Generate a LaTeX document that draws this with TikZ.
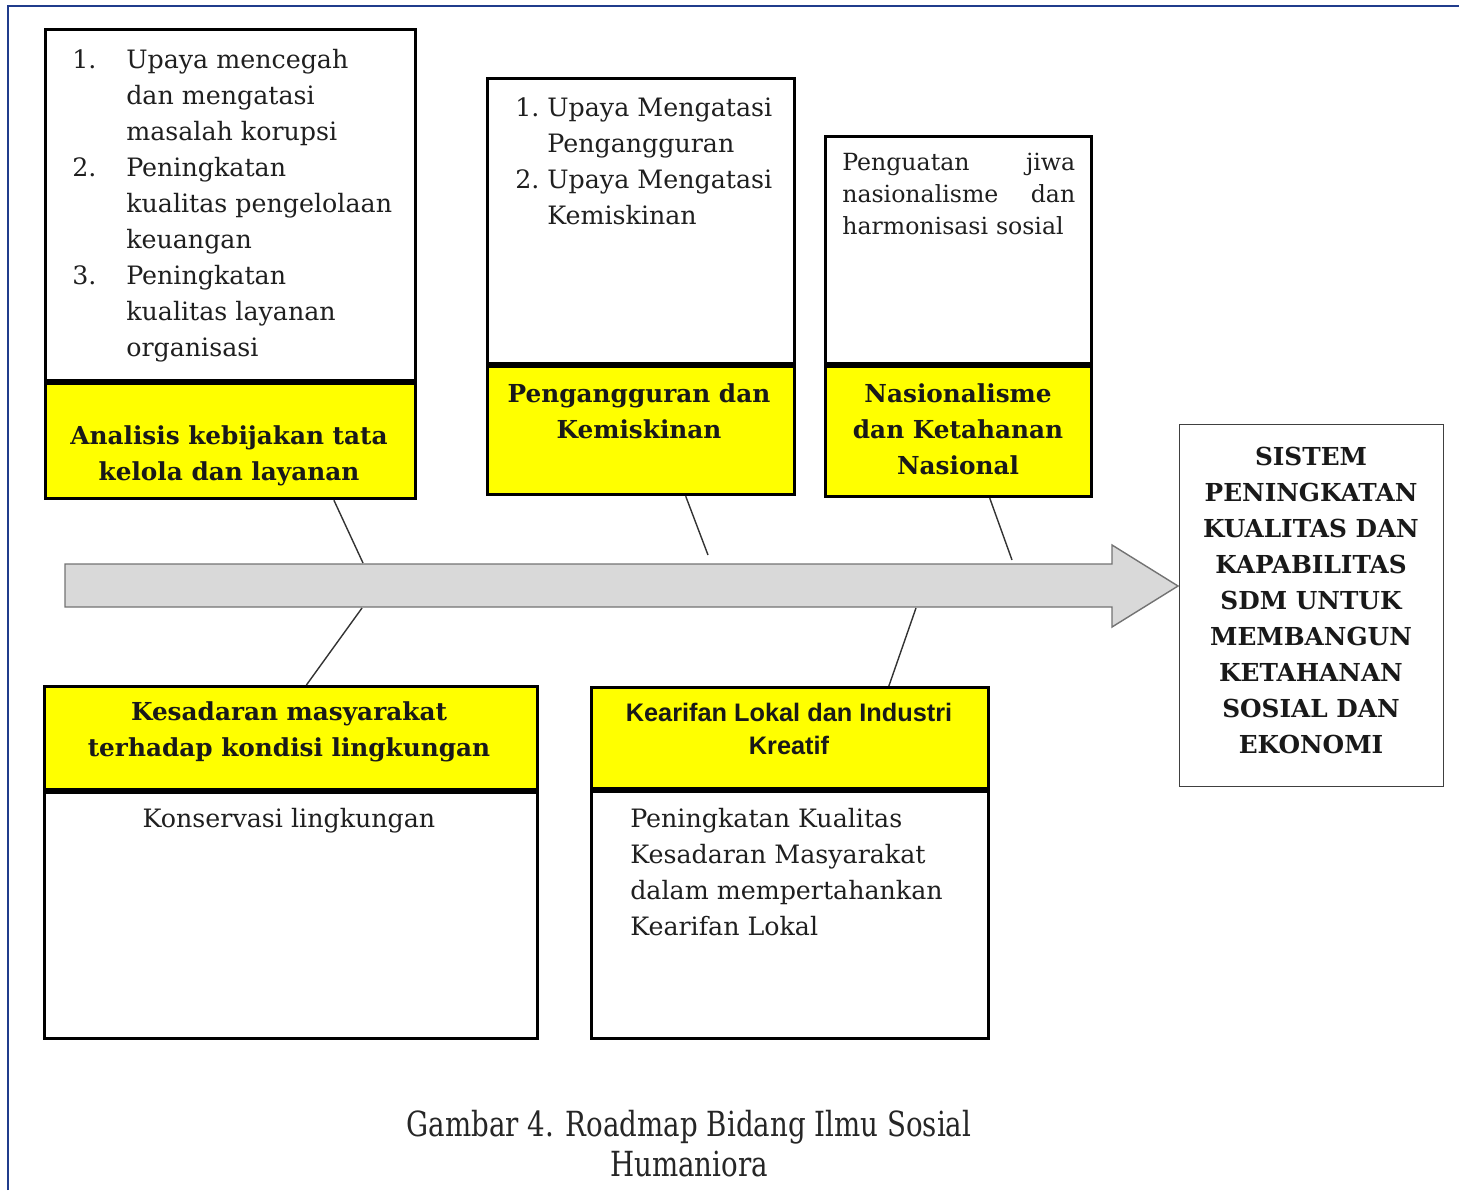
\documentclass[tikz,border=0pt]{standalone}
\usepackage{fontspec}
\setmainfont{DejaVu Serif}
\newfontfamily\capfont[FakeStretch=0.8]{DejaVu Serif}
\newfontfamily\kfont{Liberation Sans}
\usetikzlibrary{calc}
\definecolor{hdyellow}{RGB}{255,255,0}
\definecolor{frameblue}{RGB}{32,60,140}
\definecolor{shaftgray}{RGB}{217,217,217}
\newcommand{\pxw}{0.025cm}
\tikzset{
  cell/.style={draw=black, line width=2.2pt, anchor=north west, inner sep=0pt},
  headcell/.style={cell, fill=hdyellow},
  bodytext/.style={anchor=north west, inner sep=0pt, align=left, text=black!88,
    font=\fontsize{18}{25.6}\selectfont},
  headtext/.style={anchor=north, inner sep=0pt, align=center, text=black!90,
    font=\bfseries\fontsize{17.6}{25.6}\selectfont},
  stem/.style={draw=black!80, line width=1pt},
}
\begin{document}
\begin{tikzpicture}[x=0.025cm, y=-0.025cm]
        \useasboundingbox (0,0) rectangle (1459,1190);
        %Page frame
        \draw[frameblue, line width=1.5pt] (8,1190) -- (8,6) -- (1459,6);
        %Main arrow
        \draw[draw=black!55, fill=shaftgray, line width=1pt]
          (65,564) -- (1112,564) -- (1112,545) -- (1178,586)
          -- (1112,627) -- (1112,607) -- (65,607) -- cycle;
        \coordinate (jA) at (363,563);
        \coordinate (jB) at (708,555);
        \coordinate (jC) at (1012,560);
        \coordinate (jE) at (362,608);
        \coordinate (jF) at (916,608);
        %Top cells
        \node[cell, minimum width=370*\pxw, minimum height=351*\pxw] (listA) at (44,28) {};
        \node[headcell, minimum width=370*\pxw, minimum height=115*\pxw] (headA) at (listA.south west) {};
        \node[cell, minimum width=307*\pxw, minimum height=285*\pxw] (listB) at (486,77) {};
        \node[headcell, minimum width=307*\pxw, minimum height=128*\pxw] (headB) at (listB.south west) {};
        \node[cell, minimum width=266*\pxw, minimum height=227*\pxw] (listC) at (824,135) {};
        \node[headcell, minimum width=266*\pxw, minimum height=130*\pxw] (headC) at (listC.south west) {};
        %Bottom cells
        \node[headcell, minimum width=493*\pxw, minimum height=103*\pxw] (headE) at (43,685) {};
        \node[cell, minimum width=493*\pxw, minimum height=246*\pxw] (listE) at (headE.south west) {};
        \node[headcell, minimum width=397*\pxw, minimum height=101*\pxw] (headF) at (590,686) {};
        \node[cell, minimum width=397*\pxw, minimum height=247*\pxw] (listF) at (headF.south west) {};
        %Goal
        \node[draw=black!75, line width=1pt, anchor=north west, inner sep=0pt,
          minimum width=264*\pxw, minimum height=362*\pxw] (goal) at (1179,424) {};
        %Stems
        \foreach \cell/\pos/\to in {headA/0.777/jA, headB/0.644/jB, headC/0.616/jC}
          \draw[stem] ($(\cell.south west)!\pos!(\cell.south east)$) -- (\to);
        \foreach \cell/\pos/\to in {headE/0.531/jE, headF/0.747/jF}
          \draw[stem] ($(\cell.north west)!\pos!(\cell.north east)$) -- (\to);
        %Texts
        \node[bodytext] (txtA) at (72,49)
          {\makebox[38.4pt][l]{1.}Upaya mencegah\\\hspace*{38.4pt}dan mengatasi\\\hspace*{38.4pt}masalah korupsi\\
           \makebox[38.4pt][l]{2.}Peningkatan\\\hspace*{38.4pt}kualitas pengelolaan\\\hspace*{38.4pt}keuangan\\
           \makebox[38.4pt][l]{3.}Peningkatan\\\hspace*{38.4pt}kualitas layanan\\\hspace*{38.4pt}organisasi};
        \node[bodytext] (txtB) at (515,97)
          {\makebox[22.8pt][l]{1.}Upaya Mengatasi\\\hspace*{22.8pt}Pengangguran\\
           \makebox[22.8pt][l]{2.}Upaya Mengatasi\\\hspace*{22.8pt}Kemiskinan};
        \node[bodytext, text width=233*\pxw, font=\fontsize{16.8}{22.8}\selectfont] (txtC) at (842,153)
          {Penguatan\hfill jiwa\\nasionalisme\hfill dan\\harmonisasi sosial};
        \node[headtext] (ttlA) at (229,425) {Analisis kebijakan tata\\kelola dan layanan};
        \node[headtext] (ttlB) at (639,383) {Pengangguran dan\\Kemiskinan};
        \node[headtext] (ttlC) at (958,383) {Nasionalisme\\dan Ketahanan\\Nasional};
        \node[headtext] (ttlE) at (289,701) {Kesadaran masyarakat\\terhadap kondisi lingkungan};
        \node[headtext, font=\kfont\bfseries\fontsize{18}{23.5}\selectfont] (ttlF) at (789,703)
          {Kearifan Lokal dan Industri\\Kreatif};
        \node[bodytext, anchor=north, align=center] (txtE) at (289,808) {Konservasi lingkungan};
        \node[bodytext] (txtF) at (630,808)
          {Peningkatan Kualitas\\Kesadaran Masyarakat\\dalam mempertahankan\\Kearifan Lokal};
        \node[headtext] (ttlGoal) at (1311,447)
          {SISTEM\\PENINGKATAN\\KUALITAS DAN\\KAPABILITAS\\SDM UNTUK\\MEMBANGUN\\KETAHANAN\\SOSIAL DAN\\EKONOMI};
        %Caption
        \node[anchor=north, inner sep=0pt, align=center, text=black!85,
          font=\capfont\fontsize{24.6}{28.5}\selectfont] (caption) at (689,1110)
          {Gambar 4. Roadmap Bidang Ilmu Sosial\\Humaniora};
      \end{tikzpicture}
\end{document}
